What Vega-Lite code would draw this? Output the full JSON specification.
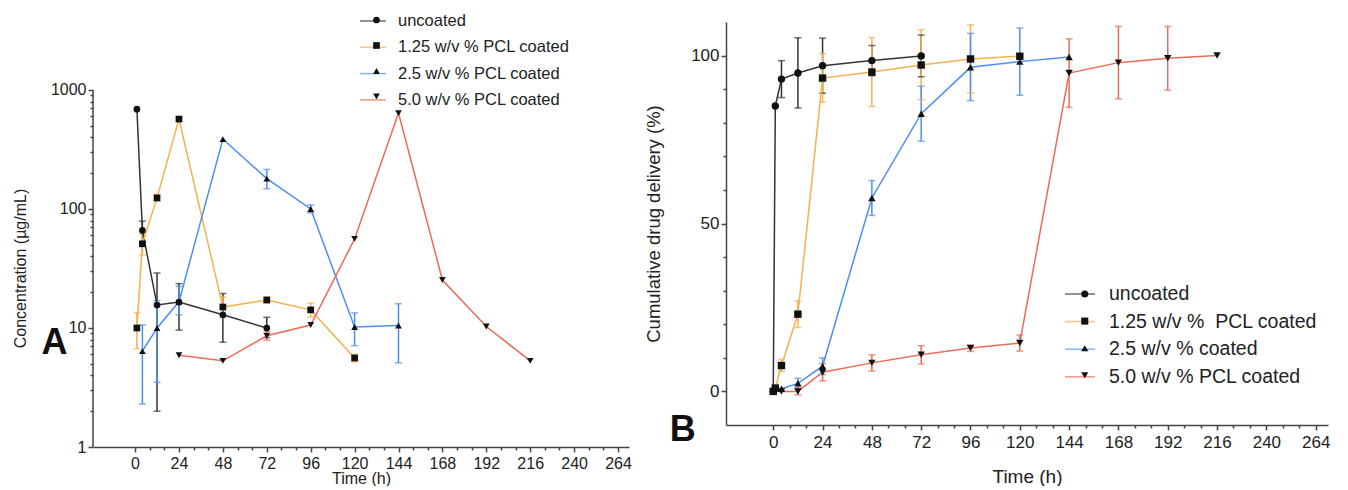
{
  "$schema": "https://vega.github.io/schema/vega-lite/v6.json",
  "padding": {"left": 12, "top": 7, "right": 5, "bottom": 0},
  "spacing": 12,
  "columns": 2,
  "align": "none",
  "config": {
    "font": "Liberation Sans",
    "view": {"stroke": null},
    "axis": {"grid": false, "domainColor": "#444", "tickColor": "#444", "domainWidth": 1.5, "tickWidth": 1.5, "labelColor": "#222", "titleColor": "#222", "titleFontWeight": "normal", "labelFont": "Liberation Sans", "titleFont": "Liberation Sans", "labelOverlap": false, "labelFlush": false},
    "legend": {"labelFont": "Liberation Sans", "labelColor": "#222", "labelLimit": 0}
  },
  "resolve": {"scale": {"color": "independent", "shape": "independent"}, "legend": {"color": "independent", "shape": "independent"}},
  "datasets": {
    "a": [
      {"series": "uncoated", "t": 1, "v": 690},
      {"series": "uncoated", "t": 4, "v": 66, "lo": 53, "hi": 79},
      {"series": "uncoated", "t": 12, "v": 15.6, "lo": 2.0, "hi": 29},
      {"series": "uncoated", "t": 24, "v": 16.5, "lo": 9.6, "hi": 23.6},
      {"series": "uncoated", "t": 48, "v": 12.9, "lo": 7.6, "hi": 19.5},
      {"series": "uncoated", "t": 72, "v": 10, "lo": 8.3, "hi": 12.3},
      {"series": "1.25 w/v % PCL coated", "t": 1, "v": 10, "lo": 6.7, "hi": 13.5},
      {"series": "1.25 w/v % PCL coated", "t": 4, "v": 51, "lo": 41, "hi": 61},
      {"series": "1.25 w/v % PCL coated", "t": 12, "v": 124, "lo": 116, "hi": 132},
      {"series": "1.25 w/v % PCL coated", "t": 24, "v": 570, "lo": 550, "hi": 590},
      {"series": "1.25 w/v % PCL coated", "t": 48, "v": 15, "lo": 12.2, "hi": 18.2},
      {"series": "1.25 w/v % PCL coated", "t": 72, "v": 17.2, "lo": 16.2, "hi": 18.2},
      {"series": "1.25 w/v % PCL coated", "t": 96, "v": 14.2, "lo": 12.4, "hi": 16.2},
      {"series": "1.25 w/v % PCL coated", "t": 120, "v": 5.6, "lo": 5.2, "hi": 6.0},
      {"series": "2.5 w/v % PCL coated", "t": 4, "v": 6.4, "lo": 2.3, "hi": 10.6},
      {"series": "2.5 w/v % PCL coated", "t": 12, "v": 10, "lo": 3.5, "hi": 17},
      {"series": "2.5 w/v % PCL coated", "t": 24, "v": 16.6, "lo": 12.9, "hi": 22.4},
      {"series": "2.5 w/v % PCL coated", "t": 48, "v": 387},
      {"series": "2.5 w/v % PCL coated", "t": 72, "v": 180, "lo": 148, "hi": 215},
      {"series": "2.5 w/v % PCL coated", "t": 96, "v": 100, "lo": 93, "hi": 108},
      {"series": "2.5 w/v % PCL coated", "t": 120, "v": 10.2, "lo": 7.1, "hi": 13.4},
      {"series": "2.5 w/v % PCL coated", "t": 144, "v": 10.5, "lo": 5.1, "hi": 16},
      {"series": "5.0 w/v % PCL coated", "t": 24, "v": 5.9},
      {"series": "5.0 w/v % PCL coated", "t": 48, "v": 5.3},
      {"series": "5.0 w/v % PCL coated", "t": 72, "v": 8.6, "lo": 7.9, "hi": 9.3},
      {"series": "5.0 w/v % PCL coated", "t": 96, "v": 10.6},
      {"series": "5.0 w/v % PCL coated", "t": 120, "v": 56},
      {"series": "5.0 w/v % PCL coated", "t": 144, "v": 640},
      {"series": "5.0 w/v % PCL coated", "t": 168, "v": 25.3},
      {"series": "5.0 w/v % PCL coated", "t": 192, "v": 10.3},
      {"series": "5.0 w/v % PCL coated", "t": 216, "v": 5.3}
    ],
    "b": [
      {"series": "uncoated", "t": 0, "v": 0},
      {"series": "uncoated", "t": 1, "v": 85},
      {"series": "uncoated", "t": 4, "v": 93, "lo": 87.5, "hi": 98.5},
      {"series": "uncoated", "t": 12, "v": 94.8, "lo": 84.4, "hi": 105.3},
      {"series": "uncoated", "t": 24, "v": 97, "lo": 88.8, "hi": 105.2},
      {"series": "uncoated", "t": 48, "v": 98.5, "lo": 94, "hi": 103},
      {"series": "uncoated", "t": 72, "v": 99.9, "lo": 93.7, "hi": 106.1},
      {"series": "1.25 w/v %\u00a0 PCL coated", "t": 0, "v": 0},
      {"series": "1.25 w/v %\u00a0 PCL coated", "t": 1, "v": 1},
      {"series": "1.25 w/v %\u00a0 PCL coated", "t": 4, "v": 7.7, "lo": 6, "hi": 9.5},
      {"series": "1.25 w/v %\u00a0 PCL coated", "t": 12, "v": 23, "lo": 19, "hi": 27},
      {"series": "1.25 w/v %\u00a0 PCL coated", "t": 24, "v": 93.3, "lo": 86.1, "hi": 100.6},
      {"series": "1.25 w/v %\u00a0 PCL coated", "t": 48, "v": 95.1, "lo": 84.8, "hi": 105.4},
      {"series": "1.25 w/v %\u00a0 PCL coated", "t": 72, "v": 97.2, "lo": 86.9, "hi": 107.7},
      {"series": "1.25 w/v %\u00a0 PCL coated", "t": 96, "v": 99, "lo": 88.8, "hi": 109.2},
      {"series": "1.25 w/v %\u00a0 PCL coated", "t": 120, "v": 99.8},
      {"series": "2.5 w/v % coated", "t": 0, "v": 0},
      {"series": "2.5 w/v % coated", "t": 4, "v": 0.8},
      {"series": "2.5 w/v % coated", "t": 12, "v": 2.4, "lo": 0.9, "hi": 3.9},
      {"series": "2.5 w/v % coated", "t": 24, "v": 7.5, "lo": 5, "hi": 10},
      {"series": "2.5 w/v % coated", "t": 48, "v": 57.6, "lo": 52.4, "hi": 62.8},
      {"series": "2.5 w/v % coated", "t": 72, "v": 82.7, "lo": 74.5, "hi": 90.9},
      {"series": "2.5 w/v % coated", "t": 96, "v": 96.5, "lo": 86.6, "hi": 106.6},
      {"series": "2.5 w/v % coated", "t": 120, "v": 98.2, "lo": 88.2, "hi": 108.2},
      {"series": "2.5 w/v % coated", "t": 144, "v": 99.6},
      {"series": "5.0 w/v % PCL coated", "t": 0, "v": 0},
      {"series": "5.0 w/v % PCL coated", "t": 4, "v": 0},
      {"series": "5.0 w/v % PCL coated", "t": 12, "v": 0, "lo": -1, "hi": 1},
      {"series": "5.0 w/v % PCL coated", "t": 24, "v": 5.7, "lo": 3.1, "hi": 8.3},
      {"series": "5.0 w/v % PCL coated", "t": 48, "v": 8.5, "lo": 6.1, "hi": 10.9},
      {"series": "5.0 w/v % PCL coated", "t": 72, "v": 10.9, "lo": 8.2, "hi": 13.6},
      {"series": "5.0 w/v % PCL coated", "t": 96, "v": 12.9, "lo": 11.9, "hi": 13.9},
      {"series": "5.0 w/v % PCL coated", "t": 120, "v": 14.4, "lo": 12, "hi": 16.8},
      {"series": "5.0 w/v % PCL coated", "t": 144, "v": 94.8, "lo": 84.6, "hi": 105},
      {"series": "5.0 w/v % PCL coated", "t": 168, "v": 97.9, "lo": 87.1, "hi": 108.7},
      {"series": "5.0 w/v % PCL coated", "t": 192, "v": 99.2, "lo": 89.7, "hi": 108.7},
      {"series": "5.0 w/v % PCL coated", "t": 216, "v": 100}
    ]
  },
  "concat": [
    {
      "width": 536,
      "height": 425,
      "data": {"name": "a"},
      "resolve": {"axis": {"x": "independent", "y": "independent"}},
      "layer": [
        {
          "data": {"values": [{"t": -23, "lo": 1, "hi": 1000}]},
          "mark": {"type": "rule", "strokeWidth": 1.5, "color": "#444"},
          "encoding": {
            "x": {"field": "t", "type": "quantitative", "axis": null},
            "y": {"field": "lo", "type": "quantitative", "axis": null},
            "y2": {"field": "hi"}
          }
        },
        {
          "transform": [{"filter": "isValid(datum.lo)"}],
          "mark": {"type": "rule", "strokeWidth": 1.5},
          "encoding": {
            "x": {"field": "t", "type": "quantitative", "scale": {"domain": [-23, 270], "nice": false, "zero": false},
                  "axis": {"orient": "bottom", "values": [8,16,32,40,56,64,80,88,104,112,128,136,152,160,176,184,200,208,224,232,248,256], "labels": false, "domain": false, "tickSize": 3, "title": null}},
            "y": {"field": "lo", "type": "quantitative", "scale": {"type": "log", "domain": [1, 3727], "nice": false},
                  "axis": {"orient": "left", "values": [2,3,4,5,6,7,8,9,20,30,40,50,60,70,80,90,200,300,400,500,600,700,800,900], "labels": false, "domain": false, "tickSize": 3, "title": null}},
            "y2": {"field": "hi"},
            "color": {"field": "series", "type": "nominal",
                      "scale": {"domain": ["uncoated", "1.25 w/v % PCL coated", "2.5 w/v % PCL coated", "5.0 w/v % PCL coated"], "range": ["#333333", "#F5B04F", "#4D8FF0", "#EC6A57"]},
                      "legend": {"orient": "none", "legendX": 266, "legendY": -15, "title": null, "symbolType": "stroke", "symbolSize": 676, "symbolStrokeWidth": 1.5, "labelFontSize": 16.5, "rowPadding": 3.3, "labelOffset": 11, "padding": 0}}
          }
        },
        {
          "transform": [{"filter": "isValid(datum.lo)"}],
          "mark": {"type": "tick", "orient": "horizontal", "size": 7, "thickness": 1.5},
          "encoding": {
            "x": {"field": "t", "type": "quantitative", "axis": null},
            "y": {"field": "lo", "type": "quantitative", "axis": null},
            "color": {"field": "series", "type": "nominal"}
          }
        },
        {
          "transform": [{"filter": "isValid(datum.hi)"}],
          "mark": {"type": "tick", "orient": "horizontal", "size": 7, "thickness": 1.5},
          "encoding": {
            "x": {"field": "t", "type": "quantitative", "axis": null},
            "y": {"field": "hi", "type": "quantitative", "axis": null},
            "color": {"field": "series", "type": "nominal"}
          }
        },
        {
          "mark": {"type": "line", "strokeWidth": 1.5},
          "encoding": {
            "x": {"field": "t", "type": "quantitative",
                  "axis": {"orient": "bottom", "values": [0,24,48,72,96,120,144,168,192,216,240,264], "title": "Time (h)", "labelFontSize": 16, "titleFontSize": 16, "tickSize": 5, "labelPadding": 3, "titlePadding": -1}},
            "y": {"field": "v", "type": "quantitative",
                  "axis": {"orient": "left", "values": [1,10,100,1000], "format": "d", "domain": false, "title": "Concentration (µg/mL)", "titleY": 246, "labelFontSize": 16, "titleFontSize": 16, "tickSize": 5, "labelPadding": 2, "titlePadding": 22}},
            "color": {"field": "series", "type": "nominal"}
          }
        },
        {
          "transform": [{"calculate": "indexof(['uncoated','1.25 w/v % PCL coated','2.5 w/v % PCL coated','5.0 w/v % PCL coated'], datum.series)", "as": "k"}],
          "mark": {"type": "point", "filled": true, "size": 45, "opacity": 1, "color": "#111"},
          "encoding": {
            "x": {"field": "t", "type": "quantitative", "axis": null},
            "y": {"field": "v", "type": "quantitative", "axis": null},
            "shape": {"field": "k", "type": "nominal",
                      "scale": {"domain": [0, 1, 2, 3], "range": ["circle", "square", "triangle-up", "triangle-down"]},
                      "legend": {"orient": "none", "legendX": 275.5, "legendY": -10, "title": null, "symbolSize": 45, "symbolFillColor": "#111", "symbolStrokeColor": "#111", "symbolStrokeWidth": 0, "labelFontSize": 16, "labelOpacity": 0, "rowPadding": 9.5, "padding": 0}}
          }
        },
        {
          "data": {"values": [{"label": "A", "t": -44, "v": 7.5}]},
          "mark": {"type": "text", "fontSize": 36, "fontWeight": "bold", "color": "#111", "align": "center", "baseline": "middle"},
          "encoding": {
            "x": {"field": "t", "type": "quantitative", "axis": null},
            "y": {"field": "v", "type": "quantitative", "axis": null},
            "text": {"field": "label"}
          }
        }
      ]
    },
    {
      "width": 602,
      "height": 403,
      "data": {"name": "b"},
      "resolve": {"axis": {"x": "independent", "y": "independent"}},
      "layer": [
        {
          "transform": [{"filter": "isValid(datum.lo)"}],
          "mark": {"type": "rule", "strokeWidth": 1.5},
          "encoding": {
            "x": {"field": "t", "type": "quantitative", "scale": {"domain": [-23, 270], "nice": false, "zero": false},
                  "axis": {"orient": "bottom", "values": [8,16,32,40,56,64,80,88,104,112,128,136,152,160,176,184,200,208,224,232,248,256], "labels": false, "domain": false, "tickSize": 3, "title": null}},
            "y": {"field": "lo", "type": "quantitative", "scale": {"domain": [-10, 110], "nice": false, "zero": false},
                  "axis": {"orient": "left", "values": [10,20,30,40,60,70,80,90], "labels": false, "domain": false, "tickSize": 3, "title": null}},
            "y2": {"field": "hi"},
            "color": {"field": "series", "type": "nominal",
                      "scale": {"domain": ["uncoated", "1.25 w/v %\u00a0 PCL coated", "2.5 w/v % coated", "5.0 w/v % PCL coated"], "range": ["#333333", "#F5B04F", "#4D8FF0", "#EC6A57"]},
                      "legend": {"orient": "none", "legendX": 338, "legendY": 256, "title": null, "symbolType": "stroke", "symbolSize": 900, "symbolStrokeWidth": 1.5, "labelFontSize": 19.5, "rowPadding": 1.6, "labelOffset": 13, "padding": 0}}
          }
        },
        {
          "transform": [{"filter": "isValid(datum.lo)"}],
          "mark": {"type": "tick", "orient": "horizontal", "size": 7, "thickness": 1.5},
          "encoding": {
            "x": {"field": "t", "type": "quantitative", "axis": null},
            "y": {"field": "lo", "type": "quantitative", "axis": null},
            "color": {"field": "series", "type": "nominal"}
          }
        },
        {
          "transform": [{"filter": "isValid(datum.hi)"}],
          "mark": {"type": "tick", "orient": "horizontal", "size": 7, "thickness": 1.5},
          "encoding": {
            "x": {"field": "t", "type": "quantitative", "axis": null},
            "y": {"field": "hi", "type": "quantitative", "axis": null},
            "color": {"field": "series", "type": "nominal"}
          }
        },
        {
          "mark": {"type": "line", "strokeWidth": 1.5},
          "encoding": {
            "x": {"field": "t", "type": "quantitative",
                  "axis": {"orient": "bottom", "values": [0,24,48,72,96,120,144,168,192,216,240,264], "title": "Time (h)", "labelFontSize": 17, "titleFontSize": 19, "tickSize": 5, "labelPadding": 4, "titlePadding": 17}},
            "y": {"field": "v", "type": "quantitative",
                  "axis": {"orient": "left", "values": [0, 50, 100], "title": "Cumulative drug delivery (%)", "labelFontSize": 17, "titleFontSize": 18.5, "tickSize": 5, "labelPadding": 2, "titlePadding": 27}},
            "color": {"field": "series", "type": "nominal"}
          }
        },
        {
          "transform": [{"calculate": "indexof(['uncoated','1.25 w/v %\u00a0 PCL coated','2.5 w/v % coated','5.0 w/v % PCL coated'], datum.series)", "as": "k"}],
          "mark": {"type": "point", "filled": true, "size": 55, "opacity": 1, "color": "#111"},
          "encoding": {
            "x": {"field": "t", "type": "quantitative", "axis": null},
            "y": {"field": "v", "type": "quantitative", "axis": null},
            "shape": {"field": "k", "type": "nominal",
                      "scale": {"domain": [0, 1, 2, 3], "range": ["circle", "square", "triangle-up", "triangle-down"]},
                      "legend": {"orient": "none", "legendX": 349, "legendY": 262.25, "title": null, "symbolSize": 50, "symbolFillColor": "#111", "symbolStrokeColor": "#111", "symbolStrokeWidth": 0, "labelFontSize": 19.5, "labelOpacity": 0, "rowPadding": 6.1, "padding": 0}}
          }
        },
        {
          "data": {"values": [{"label": "B", "t": -44, "v": -11.5}]},
          "mark": {"type": "text", "fontSize": 36, "fontWeight": "bold", "color": "#111", "align": "center", "baseline": "middle"},
          "encoding": {
            "x": {"field": "t", "type": "quantitative", "axis": null},
            "y": {"field": "v", "type": "quantitative", "axis": null},
            "text": {"field": "label"}
          }
        }
      ]
    }
  ]
}
